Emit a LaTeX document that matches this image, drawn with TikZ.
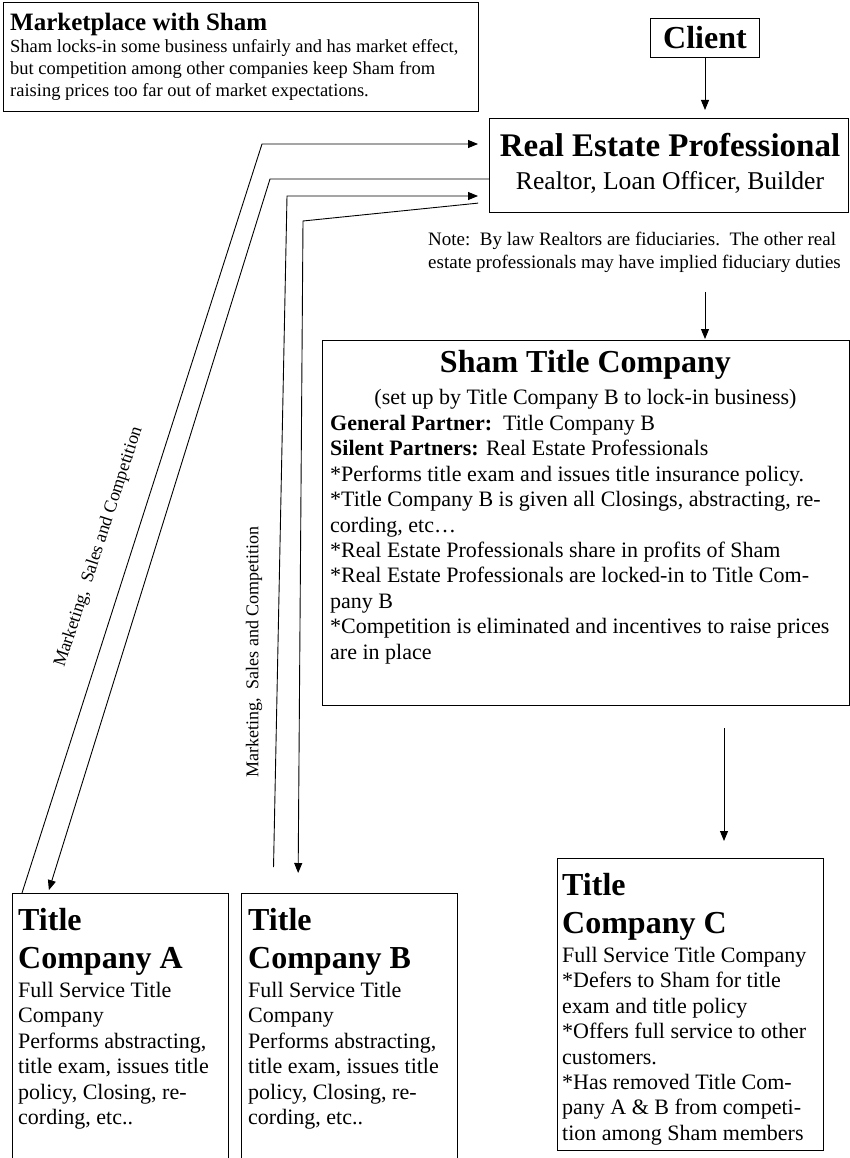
\documentclass[tikz,border=0pt]{standalone}
\usepackage{fontspec}
\setmainfont{Liberation Serif}
\usetikzlibrary{arrows.meta,calc}
\begin{document}
\begin{tikzpicture}[x=1pt,y=-1pt,
  box/.style={draw, line width=1.1pt, inner sep=0pt, anchor=north west},
  txt/.style={inner sep=0pt, align=left, anchor=north west},
  ctr/.style={inner sep=0pt, anchor=base},
  arr/.style={line width=0.9pt, -{Triangle[length=10pt,width=8pt]}},
  head/.style={font=\fontsize{32}{38}\selectfont\bfseries},
  body/.style={font=\fontsize{22}{25.4}\selectfont},
  small/.style={font=\fontsize{18.5}{22}\selectfont},
  lab/.style={inner sep=0pt, font=\fontsize{18}{21}\selectfont},
]
\useasboundingbox (0,0) rectangle (850,1158);

% boxes
\node[box, minimum width=475pt, minimum height=109pt] (mkt) at (3,2) {};
\node[draw, line width=1.1pt, minimum width=109pt, minimum height=39pt, inner sep=0pt,
      font=\fontsize{32}{38}\selectfont\bfseries] (client) at (705,38) {Client};
\node[box, minimum width=359pt, minimum height=94pt] (rep) at (489,118) {};
\node[box, minimum width=527pt, minimum height=365pt] (sham) at (322,340) {};
\node[box, minimum width=216pt, minimum height=290pt] (ta) at (12,893) {};
\node[box, minimum width=216pt, minimum height=290pt] (tb) at (241,893) {};
\node[box, minimum width=266pt, minimum height=292pt] (tc) at (557,858) {};

% marketplace text
\node[txt, font=\fontsize{25}{29}\selectfont\bfseries] (mkth) at (10,12.5) {Marketplace with Sham};
\node[txt, small] (mktb) at (10,39.5) {Sham locks-in some business unfairly and has market effect,\\
but competition among other companies keep Sham from\\
raising prices too far out of market expectations.};

% real estate professional
\node[ctr, font=\fontsize{33}{38}\selectfont\bfseries] (reph) at (670,157) {Real Estate Professional};
\node[ctr, font=\fontsize{25.6}{29}\selectfont] (reps) at (670,190) {Realtor, Loan Officer, Builder};

% note
\node[txt, font=\fontsize{19}{23}\selectfont] (note) at (428,232) {Note:\ \ By law Realtors are fiduciaries.\ \ The other real\\
estate professionals may have implied fiduciary duties};

% sham
\node[ctr, font=\fontsize{32}{38}\selectfont\bfseries] (shamh) at (585.5,372) {Sham Title Company};
\node[ctr, body] (shams) at (585.5,404) {(set up by Title Company B to lock-in business)};
\node[txt, body] (shamb) at (330,415) {\textbf{General Partner:}\ \ Title Company B\\
\textbf{Silent Partners:} Real Estate Professionals\\
*Performs title exam and issues title insurance policy.\\
*Title Company B is given all Closings, abstracting, re-\\
cording, etc\ldots\\
*Real Estate Professionals share in profits of Sham\\
*Real Estate Professionals are locked-in to Title Com-\\
pany B\\
*Competition is eliminated and incentives to raise prices\\
are in place};

% title companies
\node[txt, head] (tah) at (18,908) {Title\\Company A};
\node[txt, body] (tab) at (18,982) {Full Service Title\\Company\\Performs abstracting,\\title exam, issues title\\policy, Closing, re-\\cording, etc..};
\node[txt, head] (tbh) at (248,908) {Title\\Company B};
\node[txt, body] (tbb) at (248,982) {Full Service Title\\Company\\Performs abstracting,\\title exam, issues title\\policy, Closing, re-\\cording, etc..};
\node[txt, head] (tch) at (562,873) {Title\\Company C};
\node[txt, body] (tcb) at (562,947) {Full Service Title Company\\*Defers to Sham for title\\exam and title policy\\*Offers full service to other\\customers.\\*Has removed Title Com-\\pany A \& B from competi-\\tion among Sham members};

% labels
\node[lab, rotate=72] (lab1) at (99,547) {Marketing,\ \ Sales and Competition};
\node[lab, rotate=90] (lab2) at (254,652) {Marketing,\ \ Sales and Competition};

% bend points
\coordinate (b1) at (262,144);
\coordinate (b2) at (270,179);
\coordinate (b3) at (287,196);
\coordinate (b4s) at (489,202);
\coordinate (b4) at (303,221);
\coordinate (cx) at (724,0);

% connectors
\draw[arr, shorten >=8pt] (client) -- (rep.north -| client);
\draw[arr, shorten <=19pt, shorten >=1pt] (note.south -| client) -- (sham.north -| client);
\draw[arr, shorten <=22pt, shorten >=17pt] (sham.south -| cx) -- (tc.north -| cx);

\draw[arr, shorten >=11pt] ($(ta.north west)+(10,0)$) -- (b1) -- (rep.west |- b1);
\draw[arr, shorten >=3pt] (rep.west |- b2) -- (b2) -- ($(ta.north west)+(36,0)$);
\draw[arr, shorten <=26pt, shorten >=11pt] ($(tb.north west)+(32,0)$) -- (b3) -- (rep.west |- b3);
\draw[arr, shorten <=11pt, shorten >=20pt] (b4s) -- (b4) -- ($(tb.north west)+(57,0)$);
\end{tikzpicture}
\end{document}
